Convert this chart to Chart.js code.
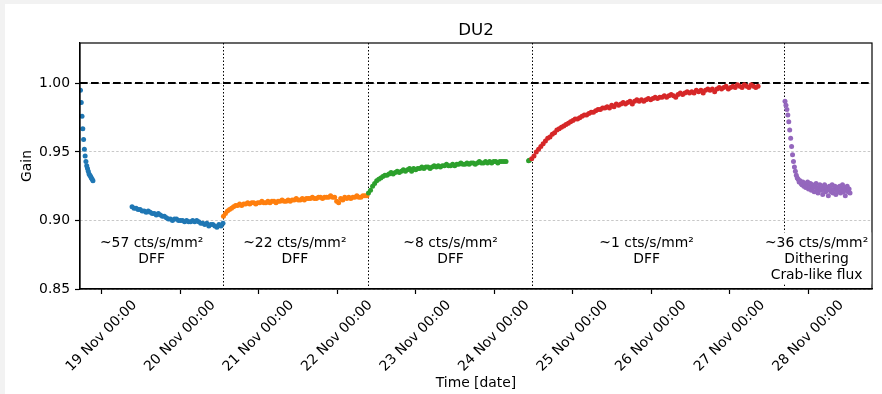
<!DOCTYPE html>
<html>
<head>
<meta charset="utf-8">
<script src="https://cdn.jsdelivr.net/npm/chart.js@4.4.1/dist/chart.umd.min.js"></script>
<style>
  html, body { margin: 0; padding: 0; background: #f2f2f2; }
  #wrap { position: absolute; left: 5px; top: 4px; width: 877px; height: 390px; background: #fff; }
</style>
</head>
<body>
<div id="wrap"><canvas id="chart" width="877" height="390"></canvas></div>
<script>
// ======================== DATA ========================
// x values are days of November 2019 (e.g. 20.5 = 20 Nov 12:00)
const X_MIN = 18.724, X_MAX = 28.811;
const Y_MIN = 0.85, Y_MAX = 1.0295;
const dayTicks = [19, 20, 21, 22, 23, 24, 25, 26, 27, 28];
const gainTicks = [0.85, 0.90, 0.95, 1.00];

// ~57 cts/s/mm2, two pieces
const blue1Span = [18.730, 18.889];
const blue1Gain = [0.995, 0.986, 0.976, 0.967, 0.959, 0.952, 0.947, 0.943, 0.940, 0.938,
  0.936, 0.934, 0.933, 0.932, 0.931, 0.930, 0.929];
const blue2Span = [19.387, 20.545];
const blue2Gain = [0.910, 0.909, 0.909, 0.908, 0.908, 0.907, 0.907, 0.906, 0.907, 0.906,
  0.905, 0.905, 0.904, 0.905, 0.904, 0.903, 0.903, 0.902, 0.901, 0.901,
  0.900, 0.901, 0.901, 0.900, 0.900, 0.900, 0.899, 0.900, 0.899, 0.899,
  0.900, 0.899, 0.900, 0.899, 0.898, 0.898, 0.897, 0.898, 0.896, 0.897,
  0.897, 0.896, 0.895, 0.897, 0.896, 0.898];

// ~22 cts/s/mm2
const orangeSpan = [20.551, 22.379];
const orangeGain = [0.903, 0.905, 0.907, 0.908, 0.909, 0.910, 0.911, 0.911, 0.912, 0.911,
  0.912, 0.912, 0.913, 0.912, 0.913, 0.913, 0.912, 0.913, 0.913, 0.914,
  0.913, 0.913, 0.914, 0.913, 0.914, 0.914, 0.913, 0.914, 0.914, 0.915,
  0.914, 0.914, 0.915, 0.914, 0.915, 0.915, 0.916, 0.915, 0.915, 0.916,
  0.915, 0.916, 0.916, 0.916, 0.917, 0.916, 0.916, 0.917, 0.917, 0.916,
  0.917, 0.917, 0.917, 0.918, 0.917, 0.917, 0.914, 0.913, 0.916, 0.915,
  0.917, 0.916, 0.917, 0.916, 0.917, 0.917, 0.918, 0.917, 0.917, 0.918,
  0.918, 0.918];

// ~8 cts/s/mm2, main run + a short bit before the next run
const greenSpan = [22.398, 24.150];
const greenGain = [0.920, 0.922, 0.925, 0.927, 0.929, 0.930, 0.931, 0.932, 0.933, 0.933,
  0.934, 0.935, 0.934, 0.935, 0.936, 0.935, 0.936, 0.937, 0.936, 0.937,
  0.938, 0.936, 0.938, 0.937, 0.938, 0.938, 0.939, 0.938, 0.939, 0.939,
  0.938, 0.939, 0.940, 0.939, 0.940, 0.939, 0.940, 0.940, 0.941, 0.940,
  0.940, 0.941, 0.940, 0.941, 0.941, 0.942, 0.941, 0.941, 0.942, 0.941,
  0.942, 0.942, 0.941, 0.942, 0.943, 0.942, 0.942, 0.943, 0.942, 0.943,
  0.942, 0.943, 0.943, 0.942, 0.943, 0.943, 0.943, 0.943];
const green2Span = [24.437, 24.447];
const green2Gain = [0.9435, 0.9440];

// ~1 cts/s/mm2
const redSpan = [24.477, 27.360];
const redGain = [0.945, 0.947, 0.950, 0.952, 0.954, 0.956, 0.958, 0.960, 0.961, 0.963,
  0.964, 0.966, 0.967, 0.968, 0.969, 0.970, 0.971, 0.972, 0.973, 0.974,
  0.974, 0.975, 0.976, 0.977, 0.977, 0.978, 0.979, 0.979, 0.980, 0.981,
  0.981, 0.982, 0.982, 0.983, 0.982, 0.984, 0.983, 0.985, 0.984, 0.985,
  0.986, 0.985, 0.986, 0.987, 0.985, 0.987, 0.988, 0.987, 0.988, 0.987,
  0.988, 0.989, 0.988, 0.989, 0.990, 0.989, 0.990, 0.990, 0.991, 0.990,
  0.991, 0.992, 0.991, 0.990, 0.992, 0.993, 0.992, 0.993, 0.994, 0.993,
  0.994, 0.993, 0.995, 0.994, 0.995, 0.993, 0.995, 0.996, 0.995, 0.996,
  0.994, 0.996, 0.997, 0.996, 0.997, 0.998, 0.996, 0.997, 0.998, 0.997,
  0.999, 0.998, 0.997, 0.999, 0.998, 0.997, 0.999, 0.998, 0.997, 0.998];

// ~36 cts/s/mm2, dithering
const purpleSpan = [27.703, 28.531];
const purpleGain = [0.987, 0.984, 0.981, 0.977, 0.972, 0.966, 0.960, 0.954, 0.948, 0.943,
  0.939, 0.936, 0.933, 0.931, 0.930, 0.928, 0.929, 0.927, 0.926, 0.928,
  0.925, 0.927, 0.924, 0.926, 0.928, 0.923, 0.925, 0.927, 0.922, 0.926,
  0.924, 0.921, 0.925, 0.927, 0.923, 0.920, 0.924, 0.926, 0.922, 0.925,
  0.919, 0.923, 0.926, 0.921, 0.924, 0.922, 0.918, 0.925, 0.923, 0.921,
  0.926, 0.920, 0.923, 0.925, 0.919, 0.922, 0.924, 0.921, 0.925, 0.920,
  0.923, 0.926, 0.921, 0.924, 0.918, 0.922, 0.925, 0.921, 0.923, 0.920];

// run boundaries and labels
const runEdges = [20.549, 22.396, 24.485, 27.694];
const runText = [
  ['~57 cts/s/mm\u00B2', 'DFF'],
  ['~22 cts/s/mm\u00B2', 'DFF'],
  ['~8 cts/s/mm\u00B2', 'DFF'],
  ['~1 cts/s/mm\u00B2', 'DFF'],
  ['~36 cts/s/mm\u00B2', 'Dithering', 'Crab-like flux']
];
const runTextDay = [19.636, 21.46, 23.443, 25.94, 28.105];
const runTextGain = 0.8833;

// ======================== HELPERS ========================
const FONT = '"DejaVu Sans", sans-serif';

function toPoints(span, gains) {
  const n = gains.length;
  return gains.map((g, i) => ({ x: span[0] + (span[1] - span[0]) * i / (n - 1), y: g }));
}

function scatterSet(points, color, order) {
  return {
    data: points,
    order: order,
    pointRadius: 2.5,
    pointBorderWidth: 0,
    pointBackgroundColor: color,
    backgroundColor: color,
    showLine: false
  };
}

// ======================== OVERLAY ========================
const overlay = {
  id: 'overlay',
  beforeDatasetsDraw(chart) {
    const { ctx, chartArea: a, scales: { x, y } } = chart;
    ctx.save();
    ctx.strokeStyle = '#000';
    ctx.lineWidth = 1;
    ctx.setLineDash([1.5, 2]);
    runEdges.forEach(d => {
      const px = Math.round(x.getPixelForValue(d)) + 0.5;
      ctx.beginPath(); ctx.moveTo(px, a.top); ctx.lineTo(px, a.bottom); ctx.stroke();
    });
    ctx.lineWidth = 2;
    ctx.setLineDash([7.7, 3.3]);
    const py = Math.round(y.getPixelForValue(1.0));
    ctx.beginPath(); ctx.moveTo(a.left, py); ctx.lineTo(a.right, py); ctx.stroke();
    ctx.restore();
  },
  afterDatasetsDraw(chart) {
    const { ctx, chartArea: a, scales: { x, y } } = chart;
    ctx.save();
    // spines
    ctx.strokeStyle = '#000';
    ctx.lineWidth = 1.2;
    ctx.strokeRect(a.left, a.top, a.right - a.left, a.bottom - a.top);

    // title
    ctx.fillStyle = '#000';
    ctx.font = '16.7px ' + FONT;
    ctx.textAlign = 'center';
    ctx.textBaseline = 'middle';
    ctx.fillText('DU2', (a.left + a.right) / 2, a.top - 12);

    // run labels
    ctx.font = '13.9px ' + FONT;
    runText.forEach((lines, i) => {
      const cx = x.getPixelForValue(runTextDay[i]);
      const cy = y.getPixelForValue(runTextGain);
      if (lines.length > 2) {
        const w = Math.max(...lines.map(s => ctx.measureText(s).width));
        ctx.fillStyle = '#fff';
        ctx.fillRect(cx - w / 2 - 3, cy - 11, w + 6, lines.length * 16 + 4);
      }
      ctx.fillStyle = '#000';
      lines.forEach((s, k) => ctx.fillText(s, cx, cy + k * 16));
    });
    ctx.restore();
  }
};

// ======================== CHART ========================
const ctx = document.getElementById('chart').getContext('2d');
new Chart(ctx, {
  type: 'scatter',
  data: {
    datasets: [
      scatterSet(toPoints(blue1Span, blue1Gain).concat(toPoints(blue2Span, blue2Gain)), '#1f77b4', 5),
      scatterSet(toPoints(orangeSpan, orangeGain), '#ff7f0e', 4),
      scatterSet(toPoints(greenSpan, greenGain).concat(toPoints(green2Span, green2Gain)), '#2ca02c', 3),
      scatterSet(toPoints(redSpan, redGain), '#d62728', 2),
      scatterSet(toPoints(purpleSpan, purpleGain), '#9467bd', 1)
    ]
  },
  options: {
    responsive: false,
    animation: false,
    events: [],
    layout: { padding: { left: 0, right: 10, top: 39, bottom: 0 } },
    plugins: {
      legend: { display: false },
      tooltip: { enabled: false },
      title: { display: false }
    },
    scales: {
      x: {
        type: 'linear',
        min: X_MIN,
        max: X_MAX,
        afterBuildTicks: s => { s.ticks = dayTicks.map(v => ({ value: v })); },
        afterFit: s => { s.height = 105; },
        grid: { drawOnChartArea: false, tickLength: 5, tickColor: '#000', tickWidth: 1.2, tickBorderDash: [] },
        border: { color: '#000', width: 1.2 },
        ticks: {
          autoSkip: false,
          minRotation: 45,
          maxRotation: 45,
          padding: 3,
          labelOffset: 33,
          color: '#000',
          font: { family: FONT, size: 13.9 },
          callback: v => v + ' Nov 00:00'
        },
        title: {
          display: true,
          text: 'Time [date]',
          color: '#000',
          font: { family: FONT, size: 13.9 },
          padding: { top: 0, bottom: 2.7 }
        }
      },
      y: {
        min: Y_MIN,
        max: Y_MAX,
        afterBuildTicks: s => { s.ticks = gainTicks.map(v => ({ value: v })); },
        afterFit: s => { s.width = 75; },
        grid: { color: '#c8c8c8', lineWidth: 1, tickLength: 5, tickColor: '#000', tickWidth: 1.2, tickBorderDash: [] },
        border: { color: '#000', width: 1.2, dash: [2.5, 2] },
        ticks: {
          padding: 5,
          color: '#000',
          font: { family: FONT, size: 13.9 },
          callback: v => v.toFixed(2)
        },
        title: {
          display: true,
          text: 'Gain',
          color: '#000',
          font: { family: FONT, size: 13.9 },
          padding: { top: 14, bottom: 0 }
        }
      }
    }
  },
  plugins: [overlay]
});
</script>
</body>
</html>
